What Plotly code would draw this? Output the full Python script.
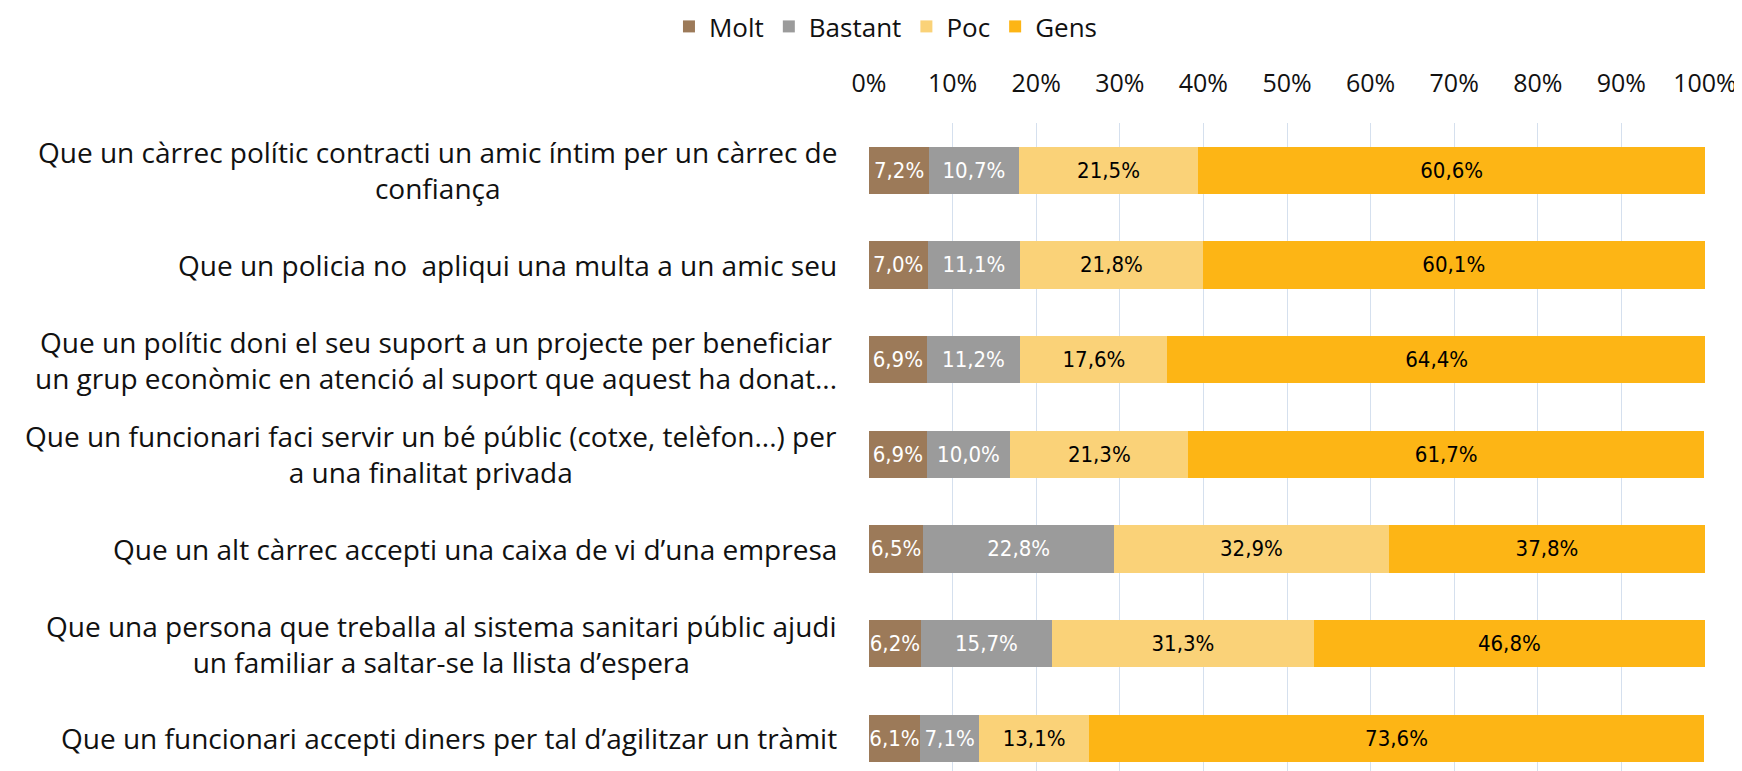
import plotly.graph_objects as go

categories = [
    "Que un càrrec polític contracti un amic íntim per un càrrec de<br>confiança",
    "Que un policia no  apliqui una multa a un amic seu",
    "Que un polític doni el seu suport a un projecte per beneficiar<br>un grup econòmic en atenció al suport que aquest ha donat...",
    "Que un funcionari faci servir un bé públic (cotxe, telèfon...) per<br>a una finalitat privada",
    "Que un alt càrrec accepti una caixa de vi d’una empresa",
    "Que una persona que treballa al sistema sanitari públic ajudi<br>un familiar a saltar-se la llista d’espera",
    "Que un funcionari accepti diners per tal d’agilitzar un tràmit",
]
molt = [7.2, 7.0, 6.9, 6.9, 6.5, 6.2, 6.1]
bastant = [10.7, 11.1, 11.2, 10.0, 22.8, 15.7, 7.1]
poc = [21.5, 21.8, 17.6, 21.3, 32.9, 31.3, 13.1]
gens = [60.6, 60.1, 64.4, 61.7, 37.8, 46.8, 73.6]
tick_vals = [0, 10, 20, 30, 40, 50, 60, 70, 80, 90, 100]
tick_text = ["0%", "10%", "20%", "30%", "40%", "50%", "60%", "70%", "80%", "90%", "100%"]

series = [
    ("Molt", molt, "#9C7A59", "white"),
    ("Bastant", bastant, "#9B9B9B", "white"),
    ("Poc", poc, "#FAD278", "black"),
    ("Gens", gens, "#FDB515", "black"),
]

ids = list(range(len(categories)))

def fmt(v):
    return f"{v:.1f}".replace(".", ",") + "%"

LABEL_FONT = "DejaVu Sans Condensed, sans-serif"
MAIN_FONT = "Open Sans"

fig = go.Figure()
for name, vals, color, tcolor in series:
    fig.add_trace(go.Bar(
        name=name, y=ids, x=vals, orientation="h",
        marker=dict(color=color, line=dict(width=0)),
        text=[fmt(v) for v in vals], textposition="inside",
        insidetextanchor="middle", textangle=0,
        textfont=dict(color=tcolor, size=22, family=LABEL_FONT),
    ))

for i, c in enumerate(categories):
    fig.add_annotation(x=0, xref="paper", xanchor="right", xshift=-30,
                       y=i, yref="y", yanchor="middle", text=c, showarrow=False,
                       align="center", font=dict(size=28, color="#111111", family=MAIN_FONT))

fig.update_layout(
    barmode="stack", bargap=0.5,
    width=1742, height=771,
    margin=dict(l=861, r=45, t=115, b=0),
    paper_bgcolor="white", plot_bgcolor="white",
    uniformtext=dict(minsize=22, mode="show"),
    font=dict(family=MAIN_FONT, size=26, color="#111111"),
    legend=dict(orientation="h", xref="container", x=0.504, xanchor="center",
                yref="container", y=0.976, yanchor="middle",
                font=dict(size=26), traceorder="normal", itemwidth=30),
    showlegend=True,
)
fig.update_xaxes(side="top", range=[0, 100], tickvals=tick_vals, ticktext=tick_text,
                 showgrid=True, gridcolor="#D5E0EE", gridwidth=1, zeroline=False,
                 ticklabelstandoff=25, tickfont=dict(size=25, family=MAIN_FONT),
                 showline=False, ticks="")
fig.update_yaxes(range=[6.43, -0.5], showticklabels=False, showgrid=False,
                 zeroline=False, ticks="")

fig.write_html("out.html")
